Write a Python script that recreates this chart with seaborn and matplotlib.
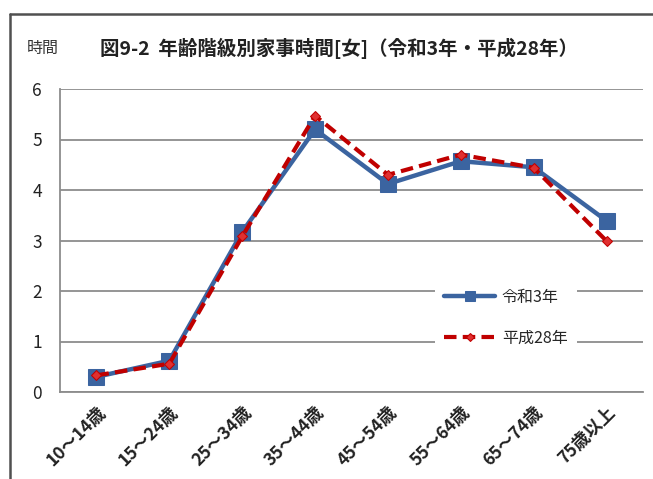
import matplotlib
matplotlib.use("Agg")
import matplotlib.pyplot as plt
import matplotlib.transforms as mtransforms
from matplotlib.lines import Line2D
import pandas as pd
import seaborn as sns

# data (hours per day, women)
age_groups = ["10～14歳", "15～24歳", "25～34歳", "35～44歳",
              "45～54歳", "55～64歳", "65～74歳", "75歳以上"]
reiwa3 = [0.30, 0.62, 3.17, 5.20, 4.12, 4.57, 4.45, 3.39]
heisei28 = [0.33, 0.56, 3.08, 5.47, 4.30, 4.70, 4.44, 2.99]
y_ticks = [0, 1, 2, 3, 4, 5, 6]

series_names = ["令和3年", "平成28年"]

df = pd.DataFrame({
    "age": age_groups * 2,
    "hours": reiwa3 + heisei28,
    "series": [series_names[0]] * len(age_groups) + [series_names[1]] * len(age_groups),
})
df["x"] = list(range(len(age_groups))) * 2

sns.set_style("white")
plt.rcParams["font.family"] = ["Noto Sans CJK JP", "DejaVu Sans"]

fig = plt.figure(figsize=(6.53, 4.79), dpi=100)
ax = fig.add_axes([60 / 653, 1 - 392 / 479, 583 / 653, 303 / 479])

blue = "#3B64A0"
red = "#C00000"

sns.lineplot(data=df[df["series"] == series_names[0]], x="x", y="hours", ax=ax,
             color=blue, linewidth=3.2, marker="s", markersize=11,
             markeredgecolor=blue, label=series_names[0], sort=False)
sns.lineplot(data=df[df["series"] == series_names[1]], x="x", y="hours", ax=ax,
             color=red, linewidth=3, linestyle=(0, (3, 1.5)), marker="D", markersize=5.5,
             markerfacecolor="#E03030", markeredgecolor=red, label=series_names[1], sort=False)

ax.set_xlim(-0.5, len(age_groups) - 0.5)
ax.set_ylim(0, 6)
ax.set_yticks(y_ticks)
ax.set_xticks(range(len(age_groups)))
ax.set_xticklabels(age_groups, rotation=45, ha="right", rotation_mode="anchor",
                   fontsize=12.5, fontweight="bold", color="#222222")
offset = mtransforms.ScaledTranslation(3 / 72, 0, fig.dpi_scale_trans)
for lbl in ax.get_xticklabels():
    lbl.set_transform(lbl.get_transform() + offset)
ax.tick_params(axis="y", labelsize=12.5, pad=13, length=0, labelcolor="#222222")
ax.tick_params(axis="x", length=0, pad=8)
ax.set_xlabel("")
ax.set_ylabel("")

ax.yaxis.grid(True, color="#8c8c8c", linewidth=1.3)
ax.set_axisbelow(True)
for side in ["top", "right"]:
    ax.spines[side].set_visible(False)
for side in ["left", "bottom"]:
    ax.spines[side].set_color("#8c8c8c")
    ax.spines[side].set_linewidth(1.3)

leg = ax.legend(loc="center", bbox_to_anchor=(0.765, 0.245), frameon=True,
                fontsize=11.5, handlelength=3.2, labelspacing=1.5, markerscale=0.7,
                borderpad=0.6, handletextpad=0.4)
leg.get_frame().set_facecolor("white")
leg.get_frame().set_edgecolor("none")
leg.get_frame().set_alpha(1)

fig.text(27 / 653, 1 - 48 / 479, "時間", fontsize=11.5, va="center", ha="left", color="#333333")
fig.text(100 / 653, 1 - 48 / 479, "図9-2  年齢階級別家事時間[女]（令和3年・平成28年）",
         fontsize=14, fontweight="bold", va="center", ha="left", color="#222222")

# outer frame of the chart object
fig.add_artist(Line2D([10 / 653, 10 / 653], [0, 1 - 14 / 479], color="#505050", linewidth=1.8,
                      transform=fig.transFigure))
fig.add_artist(Line2D([10 / 653, 1], [1 - 14 / 479, 1 - 14 / 479], color="#505050", linewidth=1.8,
                      transform=fig.transFigure))

fig.savefig("out.png", dpi=100)
